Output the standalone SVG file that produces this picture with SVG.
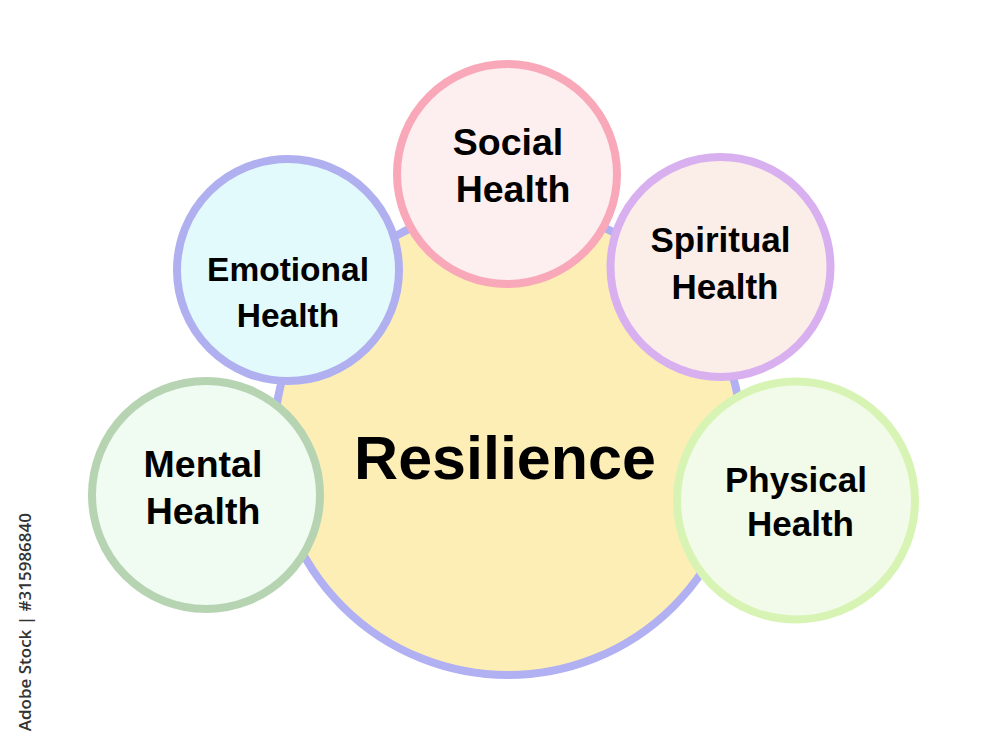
<svg xmlns="http://www.w3.org/2000/svg" width="1000" height="754" viewBox="0 0 1000 754">
<style>
.c{stroke-width:8}
.t{font-family:"Liberation Sans",Arial,sans-serif;font-weight:bold;fill:#000;text-anchor:middle}
.wm{font-family:"Open Sans","Liberation Sans",sans-serif;font-size:17px;font-weight:600;fill:#333333;text-anchor:end}
</style>
<rect width="1000" height="754" fill="#ffffff"/>
<g id="connectors"></g>
<g id="resilience">
<circle class="c" cx="508" cy="441" r="234" fill="#fdeeb6" stroke="#b0b0f2"/>
<text class="t" x="505" y="479" font-size="61">Resilience</text>
</g>
<g id="social">
<circle class="c" cx="507" cy="174" r="110" fill="#fdeef0" stroke="#f8a8b8"/>
<text class="t" x="508" y="155" font-size="37.5">Social</text>
<text class="t" x="513" y="202" font-size="37.5">Health</text>
</g>
<g id="emotional">
<circle class="c" cx="288" cy="270" r="111" fill="#e2fafc" stroke="#b0b0f0"/>
<text class="t" x="288" y="281" font-size="33.5">Emotional</text>
<text class="t" x="288" y="327" font-size="33.5">Health</text>
</g>
<g id="spiritual">
<circle class="c" cx="720.5" cy="267" r="110" fill="#fbede8" stroke="#d8b0f0"/>
<text class="t" x="720.5" y="252" font-size="35">Spiritual</text>
<text class="t" x="725" y="299" font-size="35">Health</text>
</g>
<g id="mental">
<circle class="c" cx="206" cy="495" r="114" fill="#f0fbf2" stroke="#b6d4b2"/>
<text class="t" x="203" y="477" font-size="37.5">Mental</text>
<text class="t" x="203" y="524" font-size="37.5">Health</text>
</g>
<g id="physical">
<circle class="c" cx="796" cy="500.5" r="119" fill="#f2fbea" stroke="#d8f4b4"/>
<text class="t" x="796" y="492" font-size="35">Physical</text>
<text class="t" x="800.5" y="536" font-size="35">Health</text>
</g>
<text class="wm" transform="translate(31 513) rotate(-90)">Adobe Stock | #315986840</text>
</svg>
